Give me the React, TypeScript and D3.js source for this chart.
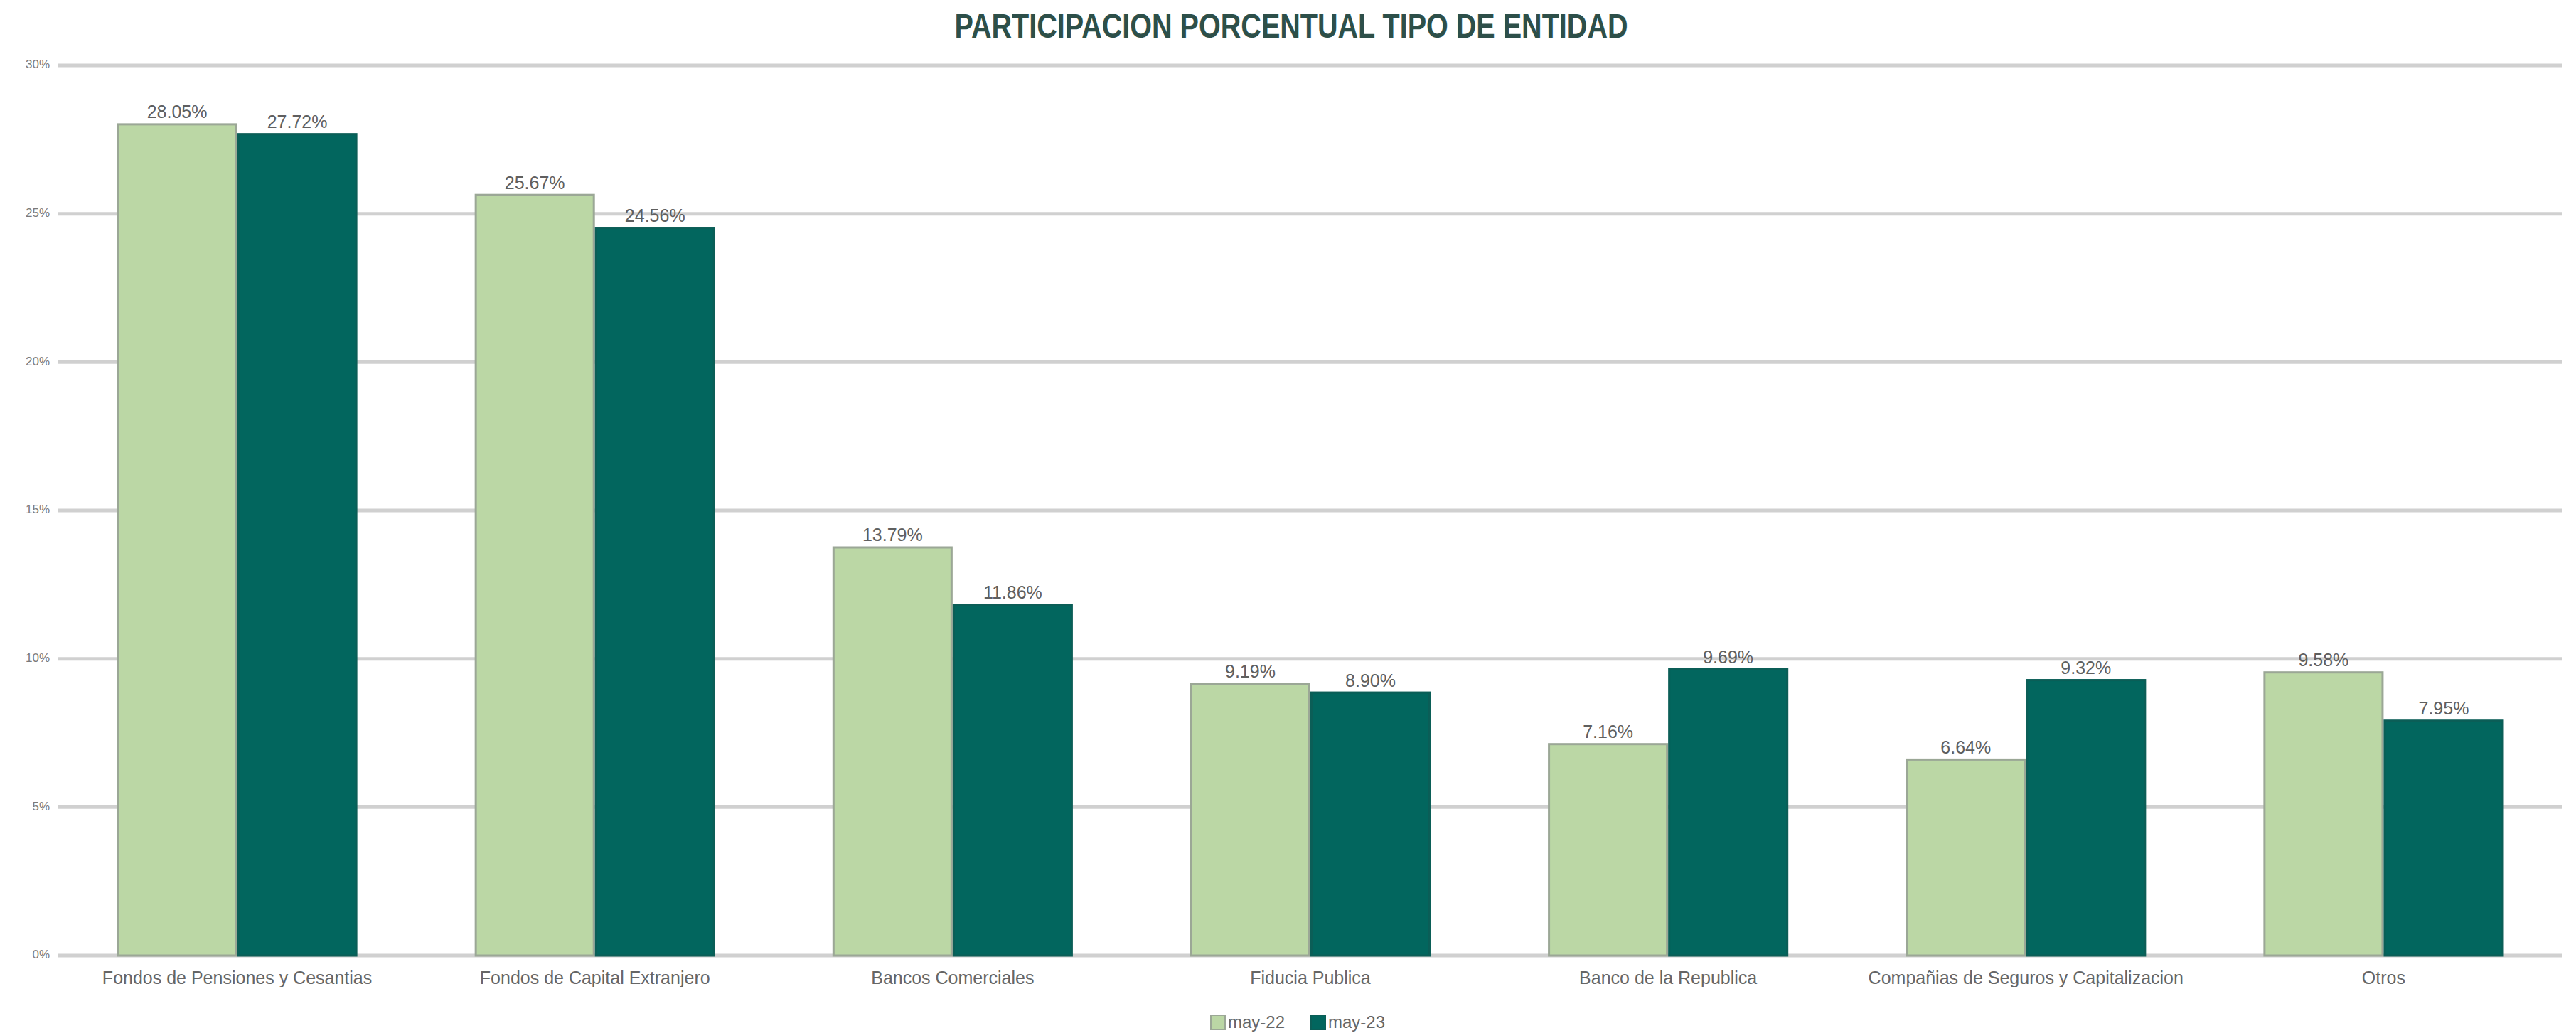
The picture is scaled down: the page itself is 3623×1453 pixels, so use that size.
import React from "react";
import * as d3 from "d3";

const categories = [
  "Fondos de Pensiones y Cesantias",
  "Fondos de Capital Extranjero",
  "Bancos Comerciales",
  "Fiducia Publica",
  "Banco de la Republica",
  "Compañias de Seguros y Capitalizacion",
  "Otros",
];
const seriesNames = ["may-22", "may-23"];
const may22 = [28.05, 25.67, 13.79, 9.19, 7.16, 6.64, 9.58];
const may23 = [27.72, 24.56, 11.86, 8.9, 9.69, 9.32, 7.95];
const yTicks = [0, 5, 10, 15, 20, 25, 30];
const title = "PARTICIPACION PORCENTUAL TIPO DE ENTIDAD";

const W = 3623;
const H = 1453;
const colors = ["#bbd7a5", "#02665e"];
const strokes = ["#9ba796", "#0b5e57"];

export default function App() {
  const left = 82;
  const right = 3604;
  const top = 92;
  const bottom = 1344;
  const y = d3.scaleLinear().domain([0, 30]).range([bottom, top]);
  const x0 = d3.scaleBand<string>().domain(categories).range([left, right]).padding(0);
  const step = x0.bandwidth();
  const x1 = d3
    .scaleBand<string>()
    .domain(seriesNames)
    .range([step * 0.164, step * 0.836])
    .padding(0);
  const values = [may22, may23];
  const font = "'Liberation Sans', Arial, sans-serif";

  return (
    <svg
      width={W}
      height={H}
      style={{ position: "absolute", left: 0, top: 0, background: "#fff" }}
      fontFamily={font}
    >
      <rect x={0} y={0} width={W} height={H} fill="#fff" />
      <text
        x={1816}
        y={53}
        textAnchor="middle"
        fontSize={48}
        fontWeight="bold"
        fill="#2d4f49"
        textLength={947}
        lengthAdjust="spacingAndGlyphs"
        fontFamily="'Liberation Sans Narrow', 'Arial Narrow', 'Liberation Sans', Arial, sans-serif"
      >
        {title}
      </text>
      {yTicks.map((t) => (
        <g key={t}>
          <line x1={left} x2={right} y1={y(t)} y2={y(t)} stroke="#d0d0d0" strokeWidth={5} />
          <text
            x={70}
            y={y(t)}
            textAnchor="end"
            dominantBaseline="middle"
            fontSize={17}
            fill="#7a7a7a"
          >
            {t + "%"}
          </text>
        </g>
      ))}
      {categories.map((c, i) => (
        <g key={c} transform={`translate(${x0(c)},0)`}>
          {seriesNames.map((s, j) => {
            const v = values[j][i];
            const bx = x1(s)!;
            const bw = x1.bandwidth();
            return (
              <g key={s}>
                <rect
                  x={bx + 1.5}
                  y={y(v) + 1.5}
                  width={bw - 3}
                  height={y(0) - y(v) - 1.5}
                  fill={colors[j]}
                  stroke={strokes[j]}
                  strokeWidth={3}
                />
                <text
                  x={bx + bw / 2}
                  y={y(v) - 7}
                  textAnchor="middle"
                  fontSize={25}
                  fill="#5f5f5f"
                >
                  {v.toFixed(2) + "%"}
                </text>
              </g>
            );
          })}
          <text x={step / 2} y={1384} textAnchor="middle" fontSize={25} fill="#666">
            {c}
          </text>
        </g>
      ))}
      {seriesNames.map((s, j) => {
        const lx = [1703, 1844][j];
        return (
          <g key={s}>
            <rect x={lx} y={1428} width={20} height={20} fill={colors[j]} stroke={strokes[j]} strokeWidth={2} />
            <text x={lx + 24} y={1446} fontSize={24} fill="#666">
              {s}
            </text>
          </g>
        );
      })}
    </svg>
  );
}
